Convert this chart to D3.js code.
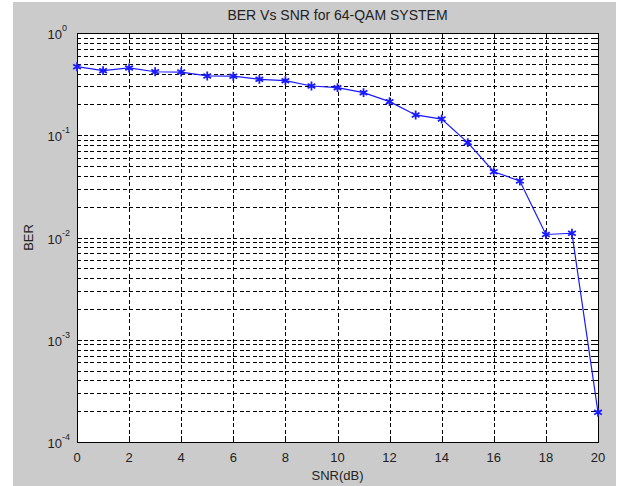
<!DOCTYPE html>
<html>
<head>
<meta charset="utf-8">
<script src="https://cdn.jsdelivr.net/npm/d3@7"></script>
<style>
  html, body { margin: 0; padding: 0; background: #fff; }
  svg { display: block; }
</style>
</head>
<body>
<script>
const snr = [0, 1, 2, 3, 4, 5, 6, 7, 8, 9, 10, 11, 12, 13, 14, 15, 16, 17, 18, 19, 20];
const ber = [0.468, 0.428, 0.455, 0.418, 0.415, 0.38, 0.378, 0.352, 0.342, 0.303, 0.292,
             0.261, 0.213, 0.158, 0.144, 0.0846, 0.044, 0.0357, 0.0107, 0.011, 0.000195];
const xTicks = [0, 2, 4, 6, 8, 10, 12, 14, 16, 18, 20];
const yDecades = [-4, -3, -2, -1, 0];

const width = 618, height = 486;
const plot = { left: 77, top: 33, right: 598, bottom: 442 };
const font = "'Liberation Sans', Arial, sans-serif";

const svg = d3.select("body").append("svg")
  .attr("width", width)
  .attr("height", height);

// figure background (MATLAB grey)
svg.append("rect")
  .attr("x", 13).attr("y", 2)
  .attr("width", 603).attr("height", height - 2)
  .attr("fill", "#cbcbcb");

const x = d3.scaleLinear().domain([0, 20]).range([plot.left, plot.right]);
const y = d3.scaleLog().domain([1e-4, 1]).range([plot.bottom, plot.top]);

svg.append("rect")
  .attr("x", plot.left).attr("y", plot.top)
  .attr("width", plot.right - plot.left).attr("height", plot.bottom - plot.top)
  .attr("fill", "white");

// minor + major log values
const yGrid = [];
yDecades.slice(0, -1).forEach((e) => {
  for (let m = 1; m < 10; m++) yGrid.push(m * Math.pow(10, e));
});
yGrid.push(1);

const grid = svg.append("g")
  .attr("stroke", "#000")
  .attr("stroke-width", 1)
  .attr("stroke-dasharray", "4,2.5")
  .attr("shape-rendering", "crispEdges");

grid.selectAll(".hg").data(yGrid.filter((v) => v > 1e-4 && v < 1)).join("line")
  .attr("x1", plot.left).attr("x2", plot.right)
  .attr("y1", (d) => Math.round(y(d)) + 0.5).attr("y2", (d) => Math.round(y(d)) + 0.5);

grid.selectAll(".vg").data(xTicks.filter((v) => v > 0 && v < 20)).join("line")
  .attr("y1", plot.top).attr("y2", plot.bottom)
  .attr("x1", (d) => Math.round(x(d)) + 0.5).attr("x2", (d) => Math.round(x(d)) + 0.5);

// box + inward ticks on all four sides
const ticks = svg.append("g")
  .attr("stroke", "#000")
  .attr("stroke-width", 1)
  .attr("shape-rendering", "crispEdges");

xTicks.forEach((t) => {
  const px = Math.round(x(t)) + 0.5;
  ticks.append("line").attr("x1", px).attr("x2", px).attr("y1", plot.bottom).attr("y2", plot.bottom - 5);
  ticks.append("line").attr("x1", px).attr("x2", px).attr("y1", plot.top).attr("y2", plot.top + 5);
});
yGrid.forEach((v) => {
  const py = Math.round(y(v)) + 0.5;
  const len = Number.isInteger(Math.log10(v)) ? 5 : 3;
  ticks.append("line").attr("x1", plot.left).attr("x2", plot.left + len).attr("y1", py).attr("y2", py);
  ticks.append("line").attr("x1", plot.right).attr("x2", plot.right - len).attr("y1", py).attr("y2", py);
});

svg.append("rect")
  .attr("x", plot.left + 0.5).attr("y", plot.top + 0.5)
  .attr("width", plot.right - plot.left).attr("height", plot.bottom - plot.top)
  .attr("fill", "none")
  .attr("stroke", "#000")
  .attr("shape-rendering", "crispEdges");

// x tick labels
svg.append("g").selectAll("text").data(xTicks).join("text")
  .attr("x", (d) => x(d))
  .attr("y", plot.bottom + 20)
  .attr("text-anchor", "middle")
  .attr("font-family", font)
  .attr("font-size", 13)
  .attr("fill", "#222")
  .text((d) => d);

// y tick labels as 10^e
const yl = svg.append("g").attr("font-family", font).attr("fill", "#222");
yDecades.forEach((e) => {
  const t = yl.append("text")
    .attr("x", plot.left - 15)
    .attr("y", y(Math.pow(10, e)) + 6)
    .attr("text-anchor", "end")
    .attr("font-size", 13);
  t.append("tspan").text("10");
  yl.append("text")
    .attr("x", plot.left - 15)
    .attr("y", y(Math.pow(10, e)) - 2)
    .attr("font-size", 9)
    .text(e);
});

// line + asterisk markers
const pts = snr.map((s, i) => [s, ber[i]]);
svg.append("path")
  .datum(pts)
  .attr("fill", "none")
  .attr("stroke", "#1a1aff")
  .attr("stroke-width", 1.2)
  .attr("d", d3.line().x((d) => x(d[0])).y((d) => y(d[1])));

const star = d3.symbol().type(d3.symbolAsterisk).size(55);
svg.append("g").selectAll("path").data(pts).join("path")
  .attr("transform", (d) => `translate(${x(d[0])},${y(d[1])})`)
  .attr("d", star)
  .attr("fill", "none")
  .attr("stroke", "#1a1aff")
  .attr("stroke-width", 1.8);

// title and axis labels
svg.append("text")
  .attr("x", (plot.left + plot.right) / 2)
  .attr("y", 20)
  .attr("text-anchor", "middle")
  .attr("font-family", font)
  .attr("font-size", 14)
  .attr("fill", "#222")
  .text("BER Vs SNR for 64-QAM SYSTEM");

svg.append("text")
  .attr("x", (plot.left + plot.right) / 2)
  .attr("y", 480)
  .attr("text-anchor", "middle")
  .attr("font-family", font)
  .attr("font-size", 13)
  .attr("fill", "#222")
  .text("SNR(dB)");

svg.append("text")
  .attr("transform", `translate(33, ${(plot.top + plot.bottom) / 2}) rotate(-90)`)
  .attr("text-anchor", "middle")
  .attr("font-family", font)
  .attr("font-size", 13)
  .attr("fill", "#222")
  .text("BER");
</script>
</body>
</html>
